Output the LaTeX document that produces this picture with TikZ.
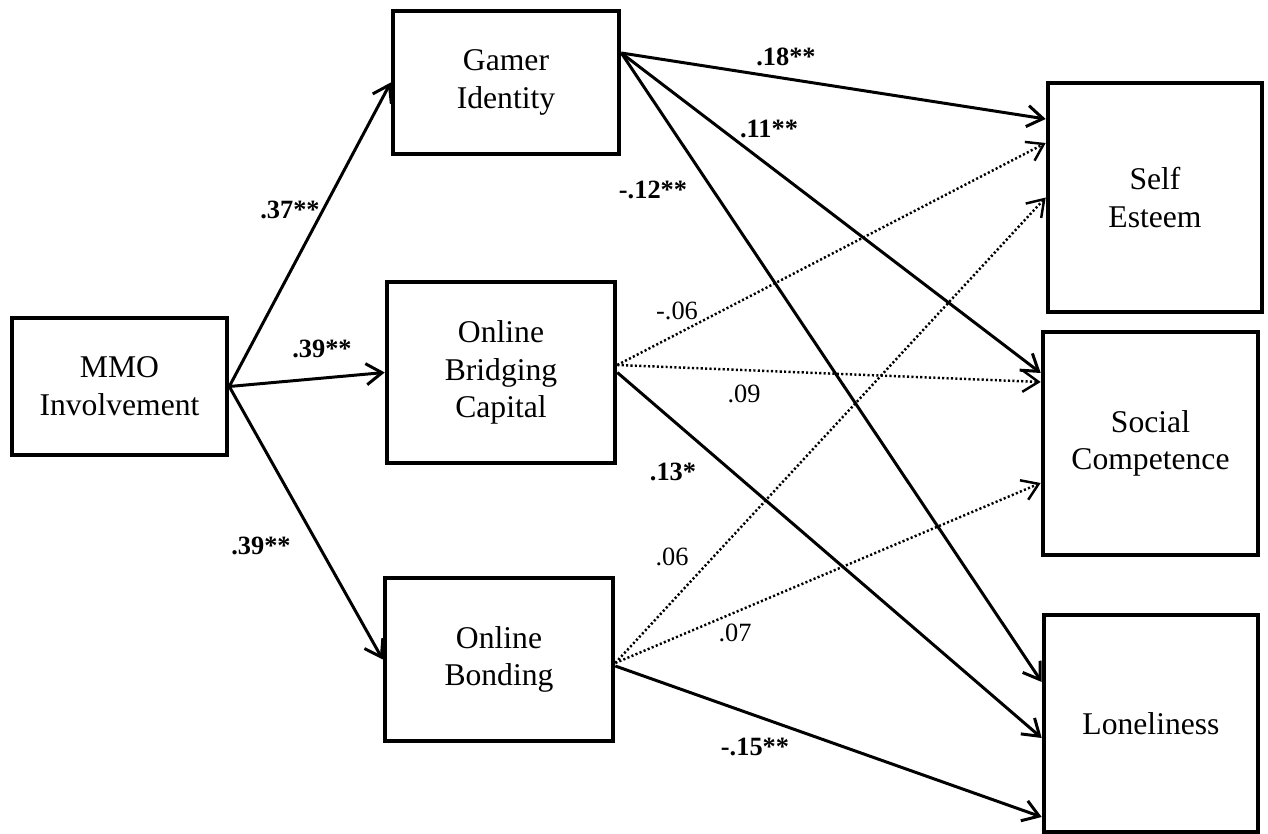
\documentclass[tikz,border=0pt]{standalone}
\usepackage{fontspec}
\setmainfont{Liberation Serif}
\usetikzlibrary{arrows.meta}

\begin{document}
\begin{tikzpicture}[
  box/.style={draw,line width=2.6pt,align=center,font=\fontsize{18}{21.5}\selectfont},
  arr/.style={line width=1.7pt,-{Straight Barb[length=9pt,width=12pt]}},
  nsarr/.style={arr,line width=1.4pt,dash pattern=on 1.2pt off 1.3pt},
  lbl/.style={font=\fontsize{15}{18}\selectfont},
  sig/.style={font=\fontsize{15}{18}\selectfont\bfseries}]
  \useasboundingbox (0,0) rectangle (25.36,16.68);
  % Predictor
  \node[box,minimum width=4.30cm,minimum height=2.74cm] (mmo) at (2.39,8.95) {MMO\\Involvement};
  % Mediators
  \node[box,minimum width=4.52cm,minimum height=2.86cm] (gamer) at (10.12,15.03) {Gamer\\Identity};
  \node[box,minimum width=4.56cm,minimum height=3.62cm] (bridging) at (10.02,9.23) {Online\\Bridging\\Capital};
  \node[box,minimum width=4.56cm,minimum height=3.26cm] (bonding) at (9.98,3.49) {Online\\Bonding};
  % Outcomes
  \node[box,minimum width=4.28cm,minimum height=4.58cm] (self) at (23.10,12.73) {Self\\Esteem};
  \node[box,minimum width=4.30cm,minimum height=4.46cm] (social) at (23.01,7.81) {Social\\Competence};
  \node[box,minimum width=4.28cm,minimum height=4.34cm] (lonely) at (23.02,2.21) {Loneliness};
  % Paths from MMO Involvement
  \draw[arr] (mmo.east) -- (gamer.west);
  \draw[arr] (mmo.east) -- (bridging.west);
  \draw[arr] (mmo.east) -- (bonding.west);
  % Paths from Gamer Identity
  \draw[arr] ([yshift=0.59cm]gamer.east) -- ([yshift=1.57cm]self.west);
  \draw[arr] ([yshift=0.59cm]gamer.east) -- ([yshift=1.41cm]social.west);
  \draw[arr] ([yshift=0.59cm]gamer.east) -- ([yshift=0.83cm]lonely.west);
  % Paths from Online Bridging Capital
  \draw[nsarr] ([yshift=0.15cm]bridging.east) -- ([yshift=1.09cm]self.west);
  \draw[nsarr] ([yshift=0.15cm]bridging.east) -- ([yshift=1.23cm]social.west);
  \draw[arr] (bridging.east) -- ([yshift=-0.29cm]lonely.west);
  % Paths from Online Bonding
  \draw[nsarr] ([yshift=-0.07cm]bonding.east) -- (self.west);
  \draw[nsarr] ([yshift=-0.07cm]bonding.east) -- ([yshift=-0.79cm]social.west);
  \draw[arr] ([yshift=-0.13cm]bonding.east) -- ([yshift=-1.87cm]lonely.west);
  % Coefficients
  \node[sig] (c37) at (5.80,12.48) {.37**};
  \node[sig] (c39a) at (6.44,9.70) {.39**};
  \node[sig] (c39b) at (5.22,5.76) {.39**};
  \node[sig] (c18) at (15.72,15.54) {.18**};
  \node[sig] (c11) at (15.38,14.10) {.11**};
  \node[sig] (c12) at (13.06,12.88) {-.12**};
  \node[lbl] (c06a) at (13.54,10.46) {-.06};
  \node[lbl] (c09) at (14.88,8.80) {.09};
  \node[sig] (c13) at (13.46,7.24) {.13*};
  \node[lbl] (c06b) at (13.44,5.54) {.06};
  \node[lbl] (c07) at (14.70,4.02) {.07};
  \node[sig] (c15) at (15.10,1.74) {-.15**};
\end{tikzpicture}
\end{document}
